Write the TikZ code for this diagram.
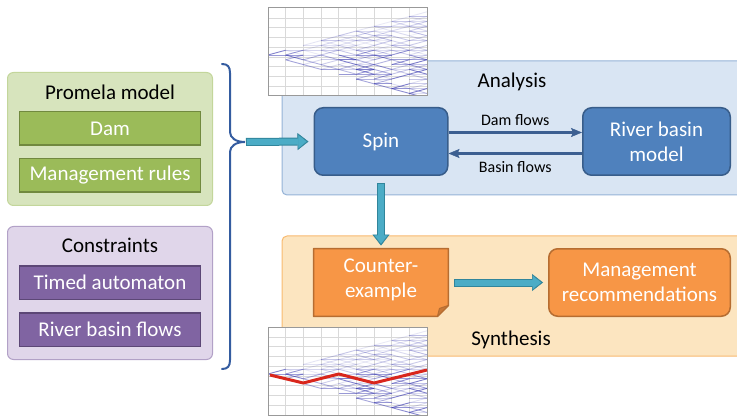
\documentclass[tikz,border=0pt]{standalone}
\usepackage{fontspec}
\setmainfont{Carlito}
\usetikzlibrary{arrows.meta,positioning,calc}
\newcommand{\bigtxt}{\fontsize{21}{25}\selectfont}
\newcommand{\smalltxt}{\fontsize{16}{19}\selectfont}
\definecolor{anafill}{RGB}{217,229,243}
\definecolor{anadraw}{RGB}{149,179,215}
\definecolor{synfill}{RGB}{252,229,192}
\definecolor{syndraw}{RGB}{248,186,112}
\definecolor{spinblue}{RGB}{79,129,189}
\definecolor{spinedge}{RGB}{56,93,138}
\definecolor{orng}{RGB}{247,150,70}
\definecolor{orngedge}{RGB}{182,109,49}
\definecolor{orngfold}{RGB}{200,120,55}
\definecolor{grnfill}{RGB}{215,228,189}
\definecolor{grnedge}{RGB}{195,214,155}
\definecolor{grn}{RGB}{155,187,89}
\definecolor{grndark}{RGB}{113,137,63}
\definecolor{purfill}{RGB}{224,214,234}
\definecolor{puredge}{RGB}{178,161,199}
\definecolor{pur}{RGB}{128,100,162}
\definecolor{purdark}{RGB}{92,71,118}
\definecolor{tealc}{RGB}{75,172,198}
\definecolor{tealdk}{RGB}{49,133,155}
\definecolor{bracec}{RGB}{52,92,160}
\definecolor{flowc}{RGB}{60,95,145}
\definecolor{trajc}{RGB}{55,55,175}
\definecolor{redline}{RGB}{217,38,28}
\tikzset{
  panel/.style={rectangle, rounded corners=5pt, line width=1pt},
  grp/.style={rectangle, rounded corners=6pt, line width=1pt,
              minimum width=205pt, minimum height=133pt},
  ttl/.style={font=\bigtxt, text=black, inner sep=0pt},
  item/.style={rectangle, line width=1.5pt, minimum width=181pt, minimum height=33.5pt,
               text=white, font=\bigtxt, inner sep=0pt},
  blk/.style={rectangle, rounded corners=9pt, line width=1.5pt, minimum height=67.5pt,
              text=white, font=\bigtxt, align=center, inner sep=2pt},
  docbox/.style={rectangle, minimum width=134.5pt, minimum height=67.5pt, inner sep=0pt},
  doctxt/.style={text=white, font=\bigtxt, align=center, inner sep=0pt},
  lbl/.style={font=\smalltxt, text=black},
  flow/.style={draw=flowc, line width=2.5pt,
               -{Stealth[length=11pt, width=9pt, inset=2pt, line width=0.5pt]}},
  fat/.style 2 args={line width=8pt, draw=tealdk, shorten <=#1, shorten >=#2,
               -{Triangle[length=11pt, width=17pt, line width=0.5pt]},
               postaction={draw=tealc, line width=6pt, shorten <=#1+1pt, shorten >=#2+1.9pt,
               -{Triangle[length=8.2pt, width=13pt, line width=0.5pt]}}},
  brc/.style={draw=bracec, line width=2pt, line cap=round},
  gridln/.style={draw=black!15, line width=0.5pt},
  traj/.style={draw=trajc, line width=0.9pt},
  plotframe/.style={draw=black!40, line width=1pt},
  redtraj/.style={draw=redline, line width=3pt, line join=round},
}
% one grid of trajectories, top left corner at #1
\newcommand{\trajplot}[1]{%
  \begin{scope}[shift={#1}]
    \fill[white] (0,0) rectangle (159,88);
    \foreach \i in {1,...,8} \draw[gridln] (\i*17.67,0) -- (\i*17.67,88);
    \foreach \j in {1,...,8} \draw[gridln] (0,\j*9.78) -- (159,\j*9.78);
    \begin{scope}
      \clip (0,0) rectangle (159,88);
      \pgfmathsetseed{11}
      \foreach \k in {0,...,8} {
        \foreach \s in {-\k,...,\k} {
          \foreach \d in {-1,0,1} {
            \pgfmathsetmacro\op{rnd<0.2 ? 0 : (0.15+0.5*rnd)*(\s>=0 ? 1 : 0.5)}
            \draw[traj, opacity=\op] (\k*17.67,47+\s*4.8) -- ++(17.67,\d*4.8);
          }
        }
      }
    \end{scope}
    \draw[plotframe] (0,0) rectangle (159,88);
  \end{scope}}

\begin{document}
\begin{tikzpicture}[x=1pt, y=-1pt]
  \useasboundingbox (0,0) rectangle (737,417);
  \clip (0,0) rectangle (737,417);

  % ============ analysis and synthesis panels ============
  \node[panel, fill=anafill, draw=anadraw, minimum width=463pt, minimum height=134pt] (ana) at (513.5,128) {};
  \node[panel, fill=synfill, draw=syndraw, minimum width=463pt, minimum height=120pt] (syn) at (513.5,296) {};
  \node[ttl] (anat) at (512,82) {Analysis};
  \node[ttl] (synt) at (511,340) {Synthesis};

  % ============ trajectory plots ============
  \trajplot{(268,8)}
  \trajplot{(268,327)}
  \draw[redtraj] (270,375) -- (303.3,383) -- (338.7,374) -- (374,383) -- (427,370);

  % ============ inputs on the left ============
  \node[grp, fill=grnfill, draw=grnedge] (prom) at (110,139) {};
  \node[ttl] (promt) at (110,92) {Promela model};
  \node[item, fill=grn, draw=grndark] (dam) at (110,128.5) {Dam};
  \node[item, fill=grn, draw=grndark, below=12pt of dam] (rules) {Management rules};

  \node[grp, fill=purfill, draw=puredge] (cons) at (110,293) {};
  \node[ttl] (const) at (110,245) {Constraints};
  \node[item, fill=pur, draw=purdark] (timed) at (110,282.5) {Timed automaton};
  \node[item, fill=pur, draw=purdark, below=12pt of timed] (bflows) {River basin flows};

  % the brace
  \coordinate (bt) at (222,64);
  \coordinate (bb) at (222,369);
  \coordinate (btip) at (245,142);
  \draw[brc] (bt) .. controls (228,64) and (230,67) .. (230,73) -- (230,132)
    .. controls (230,138) and (236,142) .. (btip)
    .. controls (236,142) and (230,146) .. (230,152) -- (230,360)
    .. controls (230,366) and (228,369) .. (bb);

  % ============ analysis ============
  \node[blk, fill=spinblue, draw=spinedge, minimum width=133.5pt] (spin) at (381,141.5) {Spin};
  \node[blk, fill=spinblue, draw=spinedge, minimum width=147.5pt] (river) at (656.5,141.5) {River basin\\ model};

  \draw[flow] ($(spin.east)+(0,-9)$) -- ($(river.west)+(0,-9)$)
    node[lbl, midway, above=2pt] {Dam flows};
  \draw[flow] ($(river.west)+(0,12)$) -- ($(spin.east)+(0,12)$)
    node[lbl, midway, below=3pt] {Basin flows};

  % ============ synthesis ============
  \node[docbox] (cex) at (381,282.5) {};
  \filldraw[fill=orng, draw=orngedge, line width=1.5pt, line join=round]
    (cex.north west) -- (cex.north east) -- ($(cex.south east)+(0,-11)$)
    -- ($(cex.south east)+(-11,0)$) -- (cex.south west) -- cycle;
  \filldraw[fill=orngfold, draw=orngedge, line width=1pt, line join=round]
    ($(cex.south east)+(0,-11)$) -- ($(cex.south east)+(-11,0)$) -- ($(cex.south east)+(-9,-8)$) -- cycle;
  \node[doctxt] (cext) at ($(cex.center)+(0,-3)$) {Counter-\\example};
  \node[blk, fill=orng, draw=orngedge, minimum width=181.5pt] (mgmt) at (639.5,282.5) {Management\\ recommendations};

  % ============ fat arrows ============
  \draw[fat={1pt}{5pt}] (btip) -- (spin.west);
  \draw[fat={7pt}{3pt}] (spin.south) -- (cex.north);
  \draw[fat={6pt}{5pt}] (cex.east) -- (mgmt.west);

\end{tikzpicture}
\end{document}
